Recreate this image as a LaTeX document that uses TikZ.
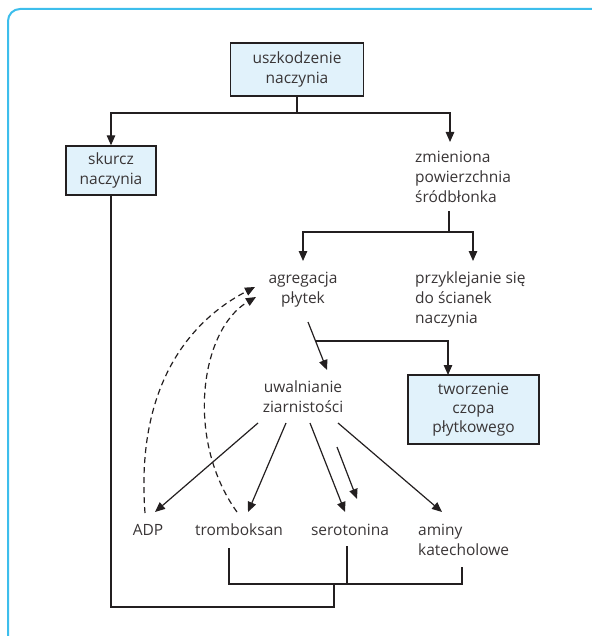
\documentclass[tikz,border=0pt]{standalone}
\usepackage{fontspec}
\setmainfont{Open Sans}
\usetikzlibrary{arrows.meta,calc}

\definecolor{framecol}{HTML}{3DBEEC}
\definecolor{boxfill}{HTML}{E1F2FB}
\definecolor{ink}{HTML}{231F20}

\begin{document}
\begin{tikzpicture}[x=1pt,y=-1pt,
  every node/.style={font=\fontsize{15.5}{20}\selectfont, text=ink!90},
  box/.style={draw=ink, line width=1.3pt, fill=boxfill, align=center, inner sep=0pt},
  lbl/.style={inner sep=0pt, anchor=north},
  link/.style={draw=ink, line width=1.2pt},
  arr/.style={link, -{Triangle[length=10pt,width=8.5pt]}},
  feedback/.style={arr, dash pattern=on 6pt off 4pt}
]
\useasboundingbox (0,0) rectangle (591,636);

% outer frame
\draw[framecol, line width=2pt, rounded corners=12pt] (8,645) -- (8,9) -- (600,9);

% boxes
\node[box, minimum width=133pt, minimum height=53pt] (damage) at (297,69.5) {uszkodzenie\\naczynia};
\node[box, minimum width=90pt, minimum height=49pt] (spasm) at (111,170.5) {skurcz\\naczynia};
\node[box, minimum width=131pt, minimum height=69pt, font=\fontsize{15.5}{19}\selectfont] (plug) at (473.5,409.5) {tworzenie\\czopa\\płytkowego};

% plain labels
\node[lbl, anchor=north west, align=left] (surface) at (415,148) {\strut zmieniona\\powierzchnia\\śródbłonka};
\node[lbl, align=center] (aggr) at (303,269) {\strut agregacja\\płytek};
\node[lbl, anchor=north west, align=left] (adhesion) at (415,269) {\strut przyklejanie się\\do ścianek\\naczynia};
\node[lbl, align=center] (release) at (303,378) {\strut uwalnianie\\ziarnistości};
\node[lbl] (adp) at (148,521) {\strut ADP};
\node[lbl] (txa) at (239,521) {\strut tromboksan};
\node[lbl] (sero) at (350,521) {\strut serotonina};
\node[lbl, anchor=north west, align=left] (amines) at (418,521) {\strut aminy\\katecholowe};

% connector end points
\coordinate (split1) at (297,113);
\coordinate (surfaceIn) at (450,142);
\coordinate (surfaceOut) at (449,211);
\coordinate (split2) at (449,232);
\coordinate (aggrIn) at (303,261);
\coordinate (adhIn) at (473,261);
\coordinate (aggrOut) at (308,322);
\coordinate (releaseIn) at (327,370);
\coordinate (plugIn) at (448,375);
\coordinate (relA) at (258,423);
\coordinate (relB) at (286,423);
\coordinate (relC) at (310,423);
\coordinate (relD) at (338,423);
\coordinate (relE) at (337,447);
\coordinate (adpIn) at (155,512);
\coordinate (txaIn) at (248,512);
\coordinate (seroIn) at (345,512);
\coordinate (seroIn2) at (357,499);
\coordinate (aminIn) at (442,512);
\coordinate (adpUp) at (145,513);
\coordinate (txaUp) at (237,512);
\coordinate (aggrBackA) at (255,287);
\coordinate (aggrBackB) at (256,297);
\coordinate (txaOut) at (229,548);
\coordinate (seroOut) at (347,546);
\coordinate (aminOut) at (462,567);
\coordinate (busL) at (229,584);
\coordinate (busR) at (462,584);
\coordinate (joinA) at (334,584);
\coordinate (joinB) at (334,607);

% vessel damage splits
\draw[link] (damage.south) -- (split1);
\draw[arr] (split1) -| (spasm.north);
\draw[arr] (split1) -| (surfaceIn);

% altered endothelium
\draw[link] (surfaceOut) -- (split2);
\draw[arr] (split2) -| (aggrIn);
\draw[arr] (split2) -| (adhIn);

% aggregation
\draw[arr] (aggrOut) -- (releaseIn);
\draw[arr] ($(aggrOut)!0.396!(releaseIn)$) -| (plugIn);

% granule release
\draw[arr] (relA) -- (adpIn);
\draw[arr] (relB) -- (txaIn);
\draw[arr] (relC) -- (seroIn);
\draw[arr] (relE) -- (seroIn2);
\draw[arr] (relD) -- (aminIn);

% positive feedback
\draw[feedback] (adpUp) .. controls (135,380) and (195,318) .. (aggrBackA);
\draw[feedback] (txaUp) .. controls (185,440) and (200,330) .. (aggrBackB);

% vasoconstriction bracket
\draw[link] (txaOut) -- (busL) -- (busR) -- (aminOut);
\draw[link] (seroOut) -- (seroOut |- busL);
\draw[link] (joinA) -- (joinB) -| (spasm.south);
\end{tikzpicture}
\end{document}
